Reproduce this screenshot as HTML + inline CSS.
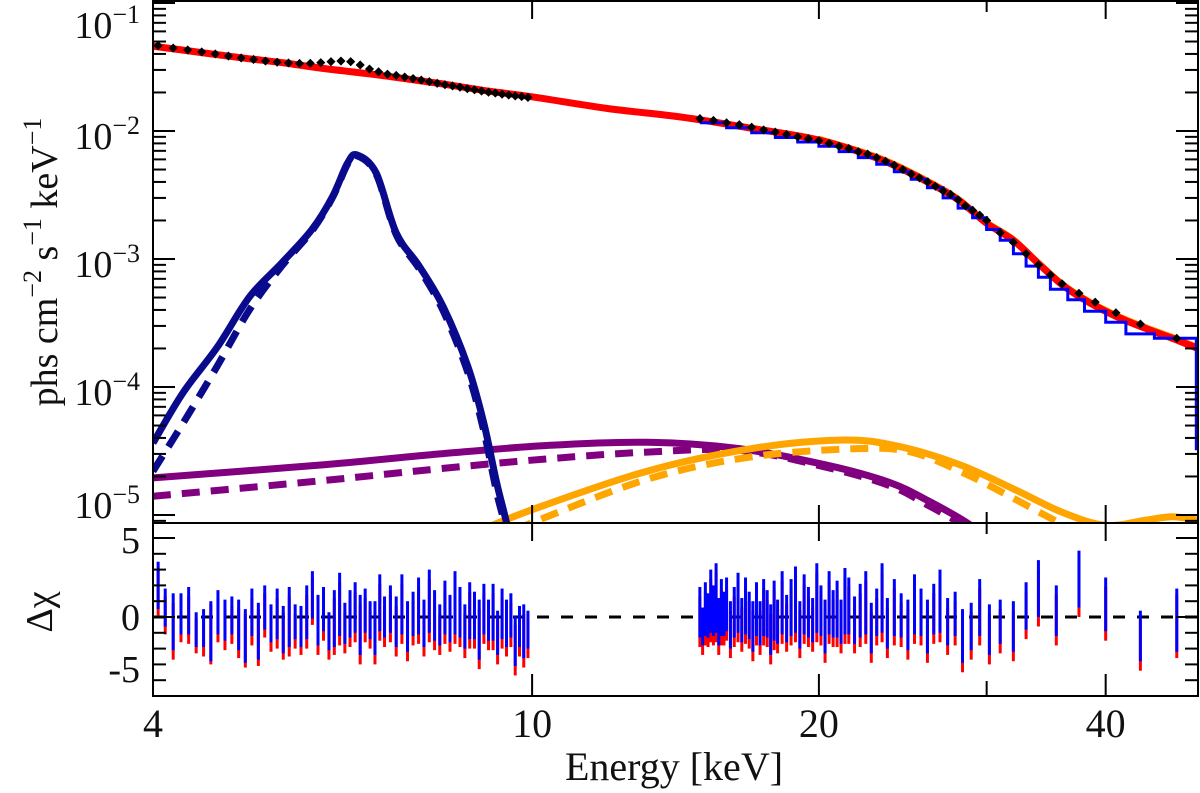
<!DOCTYPE html>
<html><head><meta charset="utf-8"><style>
html,body{margin:0;padding:0;background:#fff;}
svg{display:block;font-family:"Liberation Serif",serif;}
</style></head><body>
<svg id="chart" width="1200" height="793" viewBox="0 0 1200 793">
<defs>
<clipPath id="mainClip"><rect x="153" y="1" width="1045" height="522"/></clipPath>
<clipPath id="resClip"><rect x="153" y="523" width="1045" height="173"/></clipPath>
</defs>
<g id="mainMarks" clip-path="url(#mainClip)"></g>
<g id="resMarks" clip-path="url(#resClip)"></g>
<g id="axes"></g>
<g id="labels" fill="#111">
<text x="674" y="780" font-size="40" text-anchor="middle">Energy [keV]</text>
<text transform="translate(57,262) rotate(-90)" font-size="38" text-anchor="middle">phs  cm<tspan font-size="26" dy="-16">−2</tspan><tspan dy="16"> s</tspan><tspan font-size="26" dy="-16">−1</tspan><tspan dy="16"> keV</tspan><tspan font-size="26" dy="-16">−1</tspan></text>
<text transform="translate(52,612) rotate(-90)" font-size="38" text-anchor="middle">Δχ</text>
</g>
</svg>
<script>
// ---- data ----
const modelE=[4,4.5,5,5.5,6,7,8,9,10,12,14.4,17,20,23.2,26,28,30,32,34,36,38,40,42,45,47,50];
const modelV=[0.046,0.041,0.037,0.034,0.031,0.027,0.0235,0.0205,0.0185,0.015,0.0128,0.0105,0.0085,0.006,0.0040,0.0029,0.0019,0.0014,0.00092,0.00063,0.00048,0.00039,0.00033,0.00027,0.00024,0.0002];
const feE=[4,4.3,4.67,5.05,5.46,5.87,6.17,6.4,6.55,6.86,7.2,7.62,8.07,8.56,8.9,9.18,9.4,9.6];
const feSolid=[3.65e-5,9e-5,2.04e-4,5.05e-4,9.3e-4,1.69e-3,3.05e-3,5.6e-3,6.5e-3,4.7e-3,1.6e-3,8.7e-4,4.2e-4,1.45e-4,5.2e-5,1.78e-5,8.7e-6,4e-6];
const feDashed=[2.2e-5,5.2e-5,1.45e-4,4.0e-4,8.8e-4,1.65e-3,3.0e-3,5.5e-3,6.4e-3,4.6e-3,1.55e-3,8.3e-4,3.9e-4,1.3e-4,4.5e-5,1.5e-5,7.5e-6,3.5e-6];
const purE=[4,6,8,10.4,13.2,16.5,20.4,23.7,26,28.6,30];
const purSolid=[1.95e-5,2.46e-5,3.0e-5,3.5e-5,3.7e-5,3.3e-5,2.45e-5,1.8e-5,1.3e-5,8.7e-6,6.5e-6];
const purDashed=[1.4e-5,1.85e-5,2.3e-5,2.75e-5,3.1e-5,3.2e-5,2.35e-5,1.7e-5,1.2e-5,8e-6,6e-6];
const orgE=[8.6,10,13.2,17,21,24,28,32,36,40,44,47,50];
const orgSolid=[7e-6,1.1e-5,2.2e-5,3.3e-5,3.85e-5,3.5e-5,2.5e-5,1.6e-5,1.05e-5,8.3e-6,9.1e-6,9.7e-6,9.1e-6];
const orgDashedE=[9.6,10,13.2,17,22,25,28.5,32,36,40];
const orgDashed=[7.5e-6,8.7e-6,1.9e-5,2.85e-5,3.3e-5,3.1e-5,2.1e-5,1.35e-5,8.5e-6,6e-6];
const dataE=[4.05,4.2,4.35,4.5,4.65,4.8,4.95,5.1,5.25,5.4,5.55,5.7,5.85,6.0,6.15,6.3,6.45,6.6,6.75,6.9,7.05,7.2,7.35,7.5,7.65,7.8,7.95,8.1,8.25,8.4,8.55,8.7,8.85,9.0,9.15,9.3,9.45,9.6,9.75,9.9,
15,15.5,16,16.5,17,17.5,18,18.5,19,19.5,20,20.5,21,21.5,22,22.5,23,23.5,24,24.5,25,25.5,26,26.5,27,27.5,28,28.5,29,29.5,30,31,32,33,34,35,36,37.5,39,41,43.5,47.5];
const dataV=[0.0465,0.0445,0.043,0.0415,0.040,0.0385,0.0372,0.0362,0.0352,0.0345,0.034,0.0337,0.0338,0.0342,0.0348,0.0352,0.0348,0.0328,0.0305,0.029,0.0278,0.0272,0.0264,0.0257,0.025,0.0243,0.0236,0.023,0.0225,0.022,0.0214,0.021,0.0205,0.0201,0.0198,0.0194,0.0191,0.0188,0.0186,0.0183,
0.0125,0.0121,0.0116,0.0112,0.0107,0.0102,0.0098,0.0094,0.009,0.0087,0.0084,0.008,0.0076,0.0073,0.0069,0.0066,0.0062,0.0058,0.0054,0.005,0.0046,0.0043,0.004,0.0037,0.0034,0.0032,0.0029,0.0026,0.0024,0.0022,0.002,0.0016,0.00135,0.0011,0.0009,0.00075,0.00064,0.00054,0.00046,0.00038,0.00031,0.00024];
const stepEdges=[15,16,17,18,19,20,21,22,23,24,25,26,27,28,29,30,31,32,33,34,35,36.5,38,40,42,45,49.8];
const stepV=[0.0116,0.0106,0.0097,0.0089,0.0082,0.0076,0.0069,0.0062,0.0055,0.0048,0.0042,0.0036,0.0030,0.0025,0.0021,0.0017,0.0014,0.0011,0.00088,0.00072,0.00058,0.00048,0.00039,0.00032,0.00026,0.00024];
const stepEndV=3.2e-5;
const resE=[4.05,4.12,4.2,4.28,4.36,4.44,4.52,4.6,4.68,4.76,4.84,4.92,5.0,5.08,5.16,5.24,5.32,5.4,5.48,5.56,5.64,5.72,5.8,5.88,5.96,6.04,6.12,6.2,6.28,6.36,6.44,6.52,6.6,6.68,6.76,6.84,6.92,7.0,7.1,7.2,7.3,7.4,7.5,7.6,7.7,7.8,7.9,8.0,8.1,8.2,8.3,8.4,8.5,8.6,8.7,8.8,8.9,9.0,9.1,9.2,9.3,9.4,9.5,9.6,9.7,9.8,9.9,
15.0,15.1,15.2,15.3,15.4,15.5,15.6,15.7,15.8,15.9,16.0,16.15,16.3,16.45,16.6,16.75,16.9,17.05,17.2,17.35,17.5,17.65,17.8,17.95,18.1,18.3,18.5,18.7,18.9,19.1,19.3,19.5,19.7,19.9,20.1,20.3,20.5,20.7,20.9,21.1,21.3,21.5,21.8,22.1,22.4,22.7,23.0,23.3,23.6,24.0,24.4,24.8,25.2,25.6,26.0,26.4,26.8,27.3,27.8,28.3,28.9,29.5,30.2,31.0,32.0,33.0,34.0,35.5,37.5,40.0,43.5,47.5];
const resB=[2.0,0.6,-0.3,0.2,0.4,-0.8,-0.7,-0.9,0.3,-0.2,0.1,-0.5,-1.2,0.3,-0.9,0.6,-0.4,0.2,-0.8,0.0,-0.3,-0.6,0.3,1.4,-0.2,0.5,-0.9,-0.1,0.8,-0.4,0.2,0.6,-0.5,0.4,-0.2,-0.7,0.9,0.0,0.5,-0.3,0.8,-0.6,0.2,0.7,-0.4,1.0,0.1,-0.5,0.6,-0.1,0.9,0.3,-0.6,0.4,0.1,-0.8,0.5,-0.2,0.3,-1.0,0.2,-0.4,0.1,-1.5,-0.6,-0.9,-0.8,
0.3,-0.6,0.5,0.1,1.0,0.4,1.2,-0.3,0.6,0.2,0.8,-0.5,0.3,0.9,-0.2,0.7,0.1,-0.6,0.5,-0.4,0.6,0.2,-0.8,0.4,-0.3,0.9,-0.1,0.6,1.1,-0.5,0.8,0.3,-0.2,1.2,0.4,-0.6,0.9,0.2,0.5,-0.3,1.0,0.7,-0.2,0.4,0.9,-0.7,0.3,1.2,-0.4,0.6,0.1,-0.5,0.8,0.3,-0.6,0.5,1.0,-0.3,0.2,-1.2,-0.6,0.6,-0.8,-0.3,-0.6,0.7,1.8,0.4,2.4,0.8,-1.2,-0.2];
const resW=[1.5,1.2,1.8,1.3,1.5,1.1,1.2,1.9,1.4,1.3,1.2,1.6,1.7,1.5,1.8,1.4,1.2,1.6,1.5,1.9,1.1,1.3,1.7,1.5,1.6,1.4,1.2,1.8,2.0,1.3,1.5,1.6,1.9,1.4,1.2,1.7,1.8,1.3,1.5,1.6,1.9,1.6,1.4,1.8,1.5,2.0,1.6,1.3,1.7,1.5,2.0,1.6,1.4,1.8,1.5,1.9,1.6,1.3,1.8,1.4,1.6,1.5,1.4,1.6,1.3,1.7,1.2,
1.6,1.2,1.7,1.4,2.0,1.6,2.2,1.5,1.8,1.4,1.7,1.5,1.6,1.9,1.4,1.8,1.5,1.6,1.7,1.4,1.8,1.5,1.6,1.9,1.4,2.0,1.5,1.8,2.1,1.5,1.9,1.6,1.4,2.2,1.6,1.7,2.0,1.5,1.8,1.4,2.1,1.8,1.5,1.7,2.0,1.6,1.5,2.2,1.6,1.8,1.4,1.6,1.9,1.5,1.7,1.6,2.0,1.5,1.4,1.7,1.5,1.8,1.6,1.4,1.6,1.5,1.8,1.6,1.8,1.7,1.6,2.0];
const resR=[1.6,0.1,-0.9,-0.3,-0.2,-1.2,-1.3,-1.1,-0.2,-0.8,-0.5,-1.0,-1.5,-0.3,-1.3,0.1,-1.0,-0.4,-1.2,-0.6,-0.9,-1.1,-0.3,1.0,-0.8,-0.1,-1.5,-0.6,0.2,-1.0,-0.4,0.0,-1.1,-0.2,-0.8,-1.3,0.3,-0.6,-0.1,-0.9,0.2,-1.2,-0.4,0.1,-1.0,0.4,-0.5,-1.1,0.0,-0.7,0.3,-0.3,-1.2,-0.2,-0.5,-1.4,-0.1,-0.8,-0.3,-1.6,-0.4,-1.0,-0.5,-2.1,-1.2,-1.5,-1.4,
-0.3,-1.2,-0.1,-0.5,0.4,-0.2,0.6,-0.9,0.0,-0.4,0.2,-1.1,-0.3,0.3,-0.8,0.1,-0.5,-1.2,-0.1,-1.0,0.0,-0.4,-1.4,-0.2,-0.9,0.3,-0.7,0.0,0.5,-1.1,0.2,-0.3,-0.8,0.6,-0.2,-1.2,0.3,-0.4,-0.1,-0.9,0.4,0.1,-0.8,-0.2,0.3,-1.3,-0.3,0.6,-1.0,0.0,-0.5,-1.1,0.2,-0.3,-1.2,-0.1,0.4,-0.9,-0.4,-1.8,-1.2,0.0,-1.4,-0.9,-1.2,0.1,1.2,-0.2,1.8,0.2,-1.8,-0.6];
const yTickExp=[-1,-2,-3,-4,-5];
const xTickVals=[4,10,20,40];
const xMinor=[30];
const resTickLabels=[5,0,-5];

// ---- scales ----
const X0=153,X1=1198,E0=4,E1=50;
const DEC=(X1-X0)/Math.log10(E1/E0);
function xs(e){return X0+Math.log10(e/E0)*DEC;}
function ys(v){return 131-(Math.log10(v)+2)*128;}
function yr(r){return 617-r*15.8;}
const NS="http://www.w3.org/2000/svg";
function mk(tag,attrs,parent){const el=document.createElementNS(NS,tag);for(const k in attrs)el.setAttribute(k,attrs[k]);parent.appendChild(el);return el;}
function smoothPath(px){let d="M"+px[0][0].toFixed(1)+","+px[0][1].toFixed(1);
 for(let i=0;i<px.length-1;i++){const p0=px[Math.max(0,i-1)],p1=px[i],p2=px[i+1],p3=px[Math.min(px.length-1,i+2)];
  const c1=[p1[0]+(p2[0]-p0[0])/6,p1[1]+(p2[1]-p0[1])/6],c2=[p2[0]-(p3[0]-p1[0])/6,p2[1]-(p3[1]-p1[1])/6];
  d+=" C"+c1[0].toFixed(1)+","+c1[1].toFixed(1)+" "+c2[0].toFixed(1)+","+c2[1].toFixed(1)+" "+p2[0].toFixed(1)+","+p2[1].toFixed(1);}
 return d;}
function pts(E,V){return E.map((e,i)=>[xs(e),ys(V[i])]);}
const main=document.getElementById('mainMarks');
const res=document.getElementById('resMarks');
const axes=document.getElementById('axes');

function curve(E,V,color,dash,name){
 const p=mk('path',{d:smoothPath(pts(E,V)),fill:'none',stroke:color,'stroke-width':7,'stroke-dasharray':dash||'none'},main);
 
 
}
curve(purE,purDashed,'#800080','18 11','purple-component-dashed');
curve(purE,purSolid,'#800080','','purple-component-solid');
curve(orgDashedE,orgDashed,'#ffa500','18 11','orange-component-dashed');
curve(orgE,orgSolid,'#ffa500','','orange-component-solid');
curve(feE,feDashed,'#0a0a8c','18 11','iron-line-dashed');
curve(feE,feSolid,'#0a0a8c','','iron-line-solid');

const op=mk('path',{d:smoothPath(pts(modelE.slice(12),modelV.slice(12))),fill:'none',stroke:'#ffa500','stroke-width':3,transform:'translate(0,-3)'},main);


const mp=mk('path',{d:smoothPath(pts(modelE,modelV)),fill:'none',stroke:'#ff0000','stroke-width':7},main);



let sd="M"+xs(stepEdges[0]).toFixed(1)+","+ys(stepV[0]).toFixed(1);
for(let i=0;i<stepV.length;i++){
 sd+=" L"+xs(stepEdges[i+1]).toFixed(1)+","+ys(stepV[i]).toFixed(1);
 if(i<stepV.length-1) sd+=" L"+xs(stepEdges[i+1]).toFixed(1)+","+ys(stepV[i+1]).toFixed(1);
}
sd+=" L"+xs(stepEdges[stepEdges.length-1]).toFixed(1)+","+ys(stepEndV).toFixed(1);
const sp=mk('path',{d:sd,fill:'none',stroke:'#0000ff','stroke-width':3},main);



dataE.forEach((e,i)=>{const x=xs(e),y=ys(dataV[i]);
 const d=mk('path',{d:`M${x-3.5},${y} L${x},${y-3.5} L${x+3.5},${y} L${x},${y+3.5} Z`,fill:'#000',stroke:'#000','stroke-width':1.5},main);
 
 
});

const zl=mk('line',{x1:153,x2:1198,y1:617,y2:617,stroke:'#000','stroke-width':3,'stroke-dasharray':'12 12'},res);


resE.forEach((e,i)=>{const x=xs(e);
 const r=mk('line',{x1:x,x2:x,y1:yr(resR[i]+resW[i]),y2:yr(resR[i]-resW[i]),stroke:'#ff0000','stroke-width':3},res);
 
 
});
resE.forEach((e,i)=>{const x=xs(e);
 const b=mk('line',{x1:x,x2:x,y1:yr(resB[i]+resW[i]),y2:yr(resB[i]-resW[i]),stroke:'#0000ff','stroke-width':3},res);
 
 
});

const f1=mk('rect',{x:153,y:1,width:1045,height:522,fill:'none',stroke:'#000','stroke-width':2},axes);


const f2=mk('rect',{x:153,y:523,width:1045,height:173,fill:'none',stroke:'#000','stroke-width':2},axes);


function tick(x1,y1,x2,y2){const t=mk('line',{x1,y1,x2,y2,stroke:'#000','stroke-width':2},axes);
 
 }
for(let ex=-6;ex<=-1;ex++){for(let m=1;m<=9;m++){const v=m*Math.pow(10,ex);const y=ys(v);
 if(y<2||y>522)continue;const L=m===1?22:13;tick(153,y,153+L,y);tick(1198,y,1198-L,y);}}
yTickExp.forEach(ex=>{let y=ys(Math.pow(10,ex))+18;if(ex===-1)y=38;if(ex===-5)y=518;
 const t=mk('text',{x:140,y:y,'font-size':38,'text-anchor':'end',fill:'#111'},axes);
 
 
 t.innerHTML='10<tspan font-size="26" dy="-15">−'+(-ex)+'</tspan>';});
for(let r=-4;r<=5;r++){const y=yr(r);const L=(r===5||r===0)?22:13;tick(153,y,153+L,y);tick(1198,y,1198-L,y);}
const resLabY={5:553,0:630,'-5':682};
resTickLabels.forEach(r=>{const t=mk('text',{x:140,y:resLabY[r],'font-size':38,'text-anchor':'end',fill:'#111'},axes);
 
 
 t.textContent=r;});
xTickVals.concat(xMinor).forEach(e=>{if(e===4)return;const x=xs(e);const L=xMinor.includes(e)?11:18;
 tick(x,1,x,1+L);tick(x,523,x,523-L);tick(x,523,x,523+L);tick(x,696,x,696-L-4);});
xTickVals.forEach(e=>{const t=mk('text',{x:xs(e),y:737,'font-size':40,'text-anchor':'middle',fill:'#111'},axes);
 
 
 t.textContent=e;});
</script>
</body></html>
